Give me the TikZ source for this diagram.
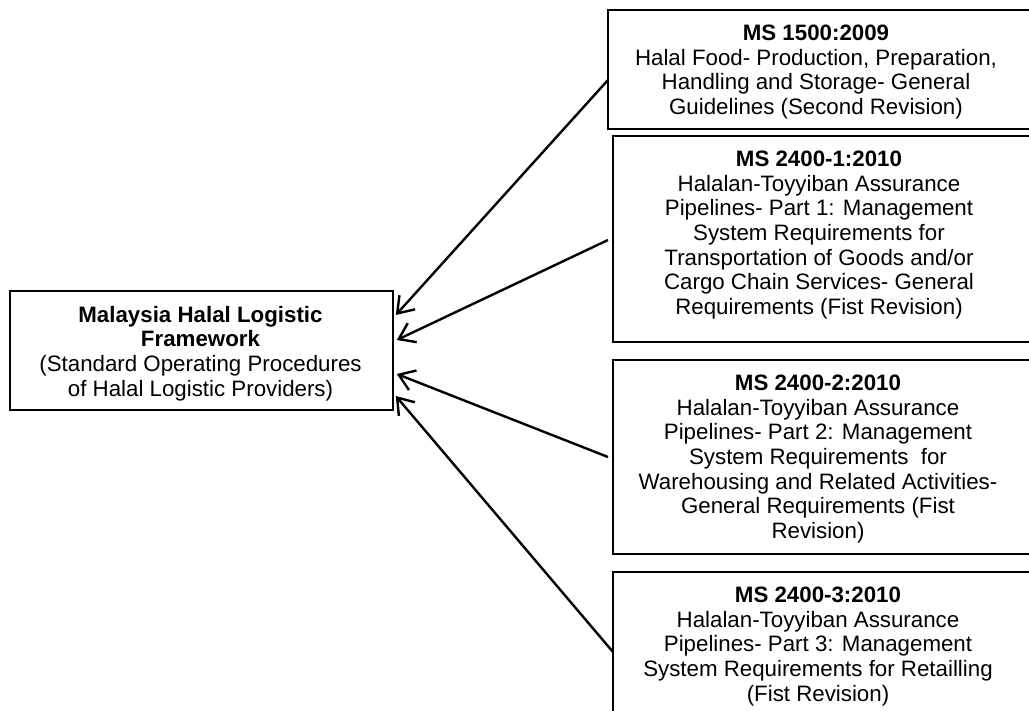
\documentclass[tikz,border=0pt]{standalone}
\usepackage{fontspec}
\setmainfont{Liberation Sans}
\usetikzlibrary{arrows.meta,calc}
\begin{document}
\begin{tikzpicture}[x=1pt,y=-1pt,
  stdbox/.style={draw, line width=1.8pt, inner sep=0pt, anchor=north west},
  txt/.style={anchor=north, align=center, inner sep=0pt, font=\fontsize{22.3}{24.6}\selectfont},
  feed/.style={line width=2.4pt, -{Straight Barb[length=15pt,width=21pt]}}]
\useasboundingbox (0,0) rectangle (1029,711);
\clip (0,0) rectangle (1029,711);

% frames
\node[stdbox, minimum width=383pt, minimum height=119pt] (L) at (9,290) {};
\node[stdbox, minimum width=430pt, minimum height=119pt] (B1) at (607,9) {};
\node[stdbox, minimum width=425pt, minimum height=206pt] (B2) at (612,135) {};
\node[stdbox, minimum width=425pt, minimum height=194pt] (B3) at (612,359) {};
\node[stdbox, minimum width=425pt, minimum height=150pt] (B4) at (612,571) {};

% texts
\node[txt] (Lt) at (200.5,306) {\textbf{Malaysia Halal Logistic}\\\textbf{Framework}\\(Standard Operating Procedures\\of Halal Logistic Providers)};
\node[txt] (B1t) at (816,25) {\textbf{MS 1500:2009}\\Halal Food- Production, Preparation,\\Handling and Storage- General\\Guidelines (Second Revision)};
\node[txt] (B2t) at (819,151) {\textbf{MS 2400-1:2010}\\Halalan-Toyyiban Assurance\\Pipelines- Part 1: Management\\System Requirements for\\Transportation of Goods and/or\\Cargo Chain Services- General\\Requirements (Fist Revision)};
\node[txt] (B3t) at (818,375) {\textbf{MS 2400-2:2010}\\Halalan-Toyyiban Assurance\\Pipelines- Part 2: Management\\System Requirements\ \ for\\Warehousing and Related Activities-\\General Requirements (Fist\\Revision)};
\node[txt] (B4t) at (818,587) {\textbf{MS 2400-3:2010}\\Halalan-Toyyiban Assurance\\Pipelines- Part 3: Management\\System Requirements for Retailling\\(Fist Revision)};

% connectors
\draw[feed] ($(B1.north west)+(1,71)$) -- ($(L.north east)+(2,25)$);
\draw[feed] ($(B2.north west)+(-4,105)$) -- ($(L.north east)+(3,50)$);
\draw[feed] ($(B3.north west)+(-4,98)$) -- ($(L.north east)+(3,84)$);
\draw[feed] ($(B4.north west)+(1,81)$) -- ($(L.north east)+(2,106)$);
\end{tikzpicture}
\end{document}
